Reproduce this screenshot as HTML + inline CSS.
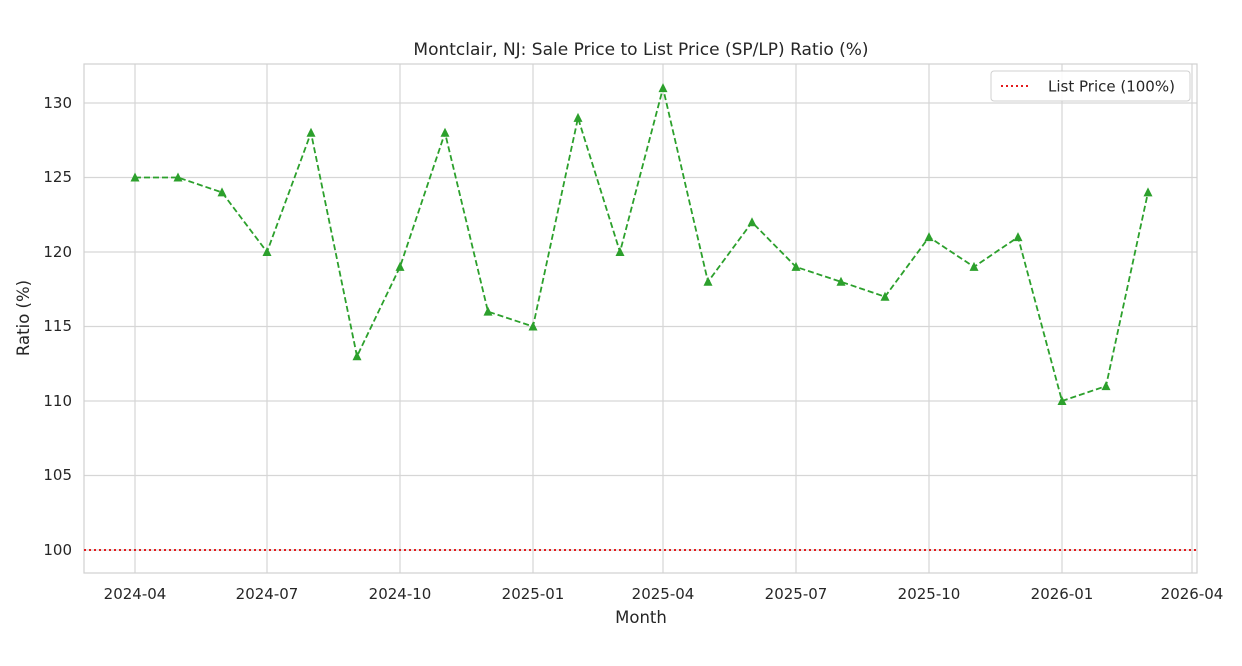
<!DOCTYPE html>
<html><head><meta charset="utf-8"><style>body{margin:0;background:#fff}svg{display:block}text{font-family:"DejaVu Sans","Liberation Sans",sans-serif;fill:#262626}</style></head><body>
<svg width="1242" height="666" xmlns="http://www.w3.org/2000/svg">
<rect width="1242" height="666" fill="#fff"/>
<g stroke="#d6d6d6" stroke-width="1.2">
<line x1="84" x2="1197" y1="103" y2="103"/><line x1="84" x2="1197" y1="177.5" y2="177.5"/><line x1="84" x2="1197" y1="252" y2="252"/><line x1="84" x2="1197" y1="326.5" y2="326.5"/><line x1="84" x2="1197" y1="401" y2="401"/><line x1="84" x2="1197" y1="475.5" y2="475.5"/><line x1="84" x2="1197" y1="550" y2="550"/>
<line y1="64" y2="573" x1="135" x2="135"/><line y1="64" y2="573" x1="267" x2="267"/><line y1="64" y2="573" x1="400" x2="400"/><line y1="64" y2="573" x1="533" x2="533"/><line y1="64" y2="573" x1="663" x2="663"/><line y1="64" y2="573" x1="796" x2="796"/><line y1="64" y2="573" x1="929" x2="929"/><line y1="64" y2="573" x1="1062" x2="1062"/><line y1="64" y2="573" x1="1192" x2="1192"/>
</g>
<rect x="84" y="64" width="1113" height="509" fill="none" stroke="#d0d0d0" stroke-width="1.2"/>
<line x1="84" x2="1197" y1="550" y2="550" stroke="#e41a1c" stroke-width="2" stroke-dasharray="2,3"/>
<g font-size="15" text-anchor="end">
<text x="72" y="108">130</text><text x="72" y="182">125</text><text x="72" y="257">120</text><text x="72" y="331">115</text><text x="72" y="406">110</text><text x="72" y="480">105</text><text x="72" y="555">100</text>
</g>
<g font-size="15" text-anchor="middle">
<text x="135" y="599">2024-04</text><text x="267" y="599">2024-07</text><text x="400" y="599">2024-10</text><text x="533" y="599">2025-01</text><text x="663" y="599">2025-04</text><text x="796" y="599">2025-07</text><text x="929" y="599">2025-10</text><text x="1062" y="599">2026-01</text><text x="1192" y="599">2026-04</text>
<text x="641" y="623" font-size="16.5">Month</text>
<text x="641" y="55" font-size="17">Montclair, NJ: Sale Price to List Price (SP/LP) Ratio (%)</text>
</g>
<text transform="translate(29,318) rotate(-90)" font-size="16.5" text-anchor="middle">Ratio (%)</text>
<polyline fill="none" stroke="#2ca02c" stroke-width="1.8" stroke-dasharray="6,3" points="135,177.5 178,177.5 222,192.4 267,252 311,132.8 357,356.3 400,266.9 445,132.8 488,311.6 533,326.5 578,117.9 620,252 663,88.1 708,281.8 752,222.2 796,266.9 841,281.8 885,296.7 929,237.1 974,266.9 1018,237.1 1062,401 1106,386.1 1148,192.4"/>
<g fill="#2ca02c">
<polygon points="135,172.5 139.5,181.5 130.5,181.5"/><polygon points="178,172.5 182.5,181.5 173.5,181.5"/><polygon points="222,187.4 226.5,196.4 217.5,196.4"/><polygon points="267,247 271.5,256 262.5,256"/><polygon points="311,127.8 315.5,136.8 306.5,136.8"/><polygon points="357,351.3 361.5,360.3 352.5,360.3"/><polygon points="400,261.9 404.5,270.9 395.5,270.9"/><polygon points="445,127.8 449.5,136.8 440.5,136.8"/><polygon points="488,306.6 492.5,315.6 483.5,315.6"/><polygon points="533,321.5 537.5,330.5 528.5,330.5"/><polygon points="578,112.9 582.5,121.9 573.5,121.9"/><polygon points="620,247 624.5,256 615.5,256"/><polygon points="663,83.1 667.5,92.1 658.5,92.1"/><polygon points="708,276.8 712.5,285.8 703.5,285.8"/><polygon points="752,217.2 756.5,226.2 747.5,226.2"/><polygon points="796,261.9 800.5,270.9 791.5,270.9"/><polygon points="841,276.8 845.5,285.8 836.5,285.8"/><polygon points="885,291.7 889.5,300.7 880.5,300.7"/><polygon points="929,232.1 933.5,241.1 924.5,241.1"/><polygon points="974,261.9 978.5,270.9 969.5,270.9"/><polygon points="1018,232.1 1022.5,241.1 1013.5,241.1"/><polygon points="1062,396 1066.5,405 1057.5,405"/><polygon points="1106,381.1 1110.5,390.1 1101.5,390.1"/><polygon points="1148,187.4 1152.5,196.4 1143.5,196.4"/>
</g>
<rect x="991" y="71" width="199" height="30" rx="3" fill="#fff" fill-opacity="0.85" stroke="#d0d0d0"/>
<line x1="1001" x2="1031" y1="86" y2="86" stroke="#e41a1c" stroke-width="2" stroke-dasharray="2,3"/>
<text x="1048" y="91.5" font-size="15">List Price (100%)</text>
</svg>
</body></html>
